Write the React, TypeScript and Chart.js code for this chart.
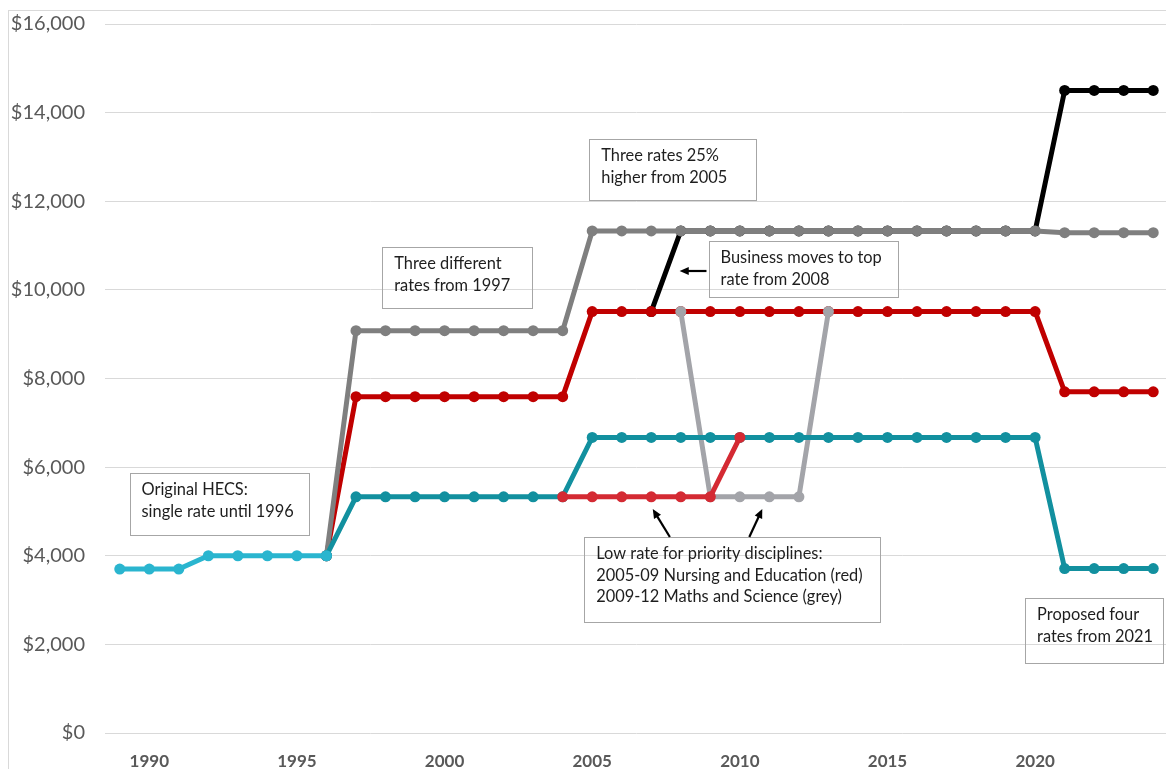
import React, { useEffect, useRef } from 'react';
import { Chart, registerables } from 'chart.js';

Chart.register(...registerables);

// Funding years shown on the category axis
const years = [
  '1989', '1990', '1991', '1992', '1993', '1994', '1995', '1996', '1997', '1998',
  '1999', '2000', '2001', '2002', '2003', '2004', '2005', '2006', '2007', '2008',
  '2009', '2010', '2011', '2012', '2013', '2014', '2015', '2016', '2017', '2018',
  '2019', '2020', '2021', '2022', '2023', '2024',
];
const yearTicks = ['1990', '1995', '2000', '2005', '2010', '2015', '2020'];
const valueTicks = [0, 2000, 4000, 6000, 8000, 10000, 12000, 14000, 16000];

// Original HECS single rate
const hecsStart = 1989;
const hecsValues = [3700, 3700, 3700, 4000, 4000, 4000, 4000, 4000];

// Top band (grey)
const topStart = 1996;
const topValues = [
  4000,
  9080, 9080, 9080, 9080, 9080, 9080, 9080, 9080,
  11330, 11330, 11330, 11330, 11330, 11330, 11330, 11330,
  11330, 11330, 11330, 11330, 11330, 11330, 11330, 11330,
  11290, 11290, 11290, 11290,
];

// Middle band (red)
const midStart = 1996;
const midValues = [
  4000,
  7590, 7590, 7590, 7590, 7590, 7590, 7590, 7590,
  9510, 9510, 9510, 9510, 9510, 9510, 9510, 9510,
  9510, 9510, 9510, 9510, 9510, 9510, 9510, 9510,
  7700, 7700, 7700, 7700,
];

// Low band (teal)
const lowStart = 1996;
const lowValues = [
  4000,
  5330, 5330, 5330, 5330, 5330, 5330, 5330, 5330,
  6670, 6670, 6670, 6670, 6670, 6670, 6670, 6670,
  6670, 6670, 6670, 6670, 6670, 6670, 6670, 6670,
  3710, 3710, 3710, 3710,
];

// Business / law (black)
const businessStart = 2007;
const businessValues = [
  9510,
  11330, 11330, 11330, 11330, 11330, 11330, 11330,
  11330, 11330, 11330, 11330, 11330, 11330,
  14500, 14500, 14500, 14500,
];

// Priority disciplines
const nursingStart = 2004;
const nursingValues = [5330, 5330, 5330, 5330, 5330, 5330, 6670];
const mathsStart = 2008;
const mathsValues = [9510, 5330, 5330, 5330, 5330, 9510];

const seriesPoints = (start: number, values: number[]) =>
  values.map((y, i) => ({ x: String(start + i), y }));

const FONT = 'Lato, "Open Sans", sans-serif';

type Note = { lines: string[]; x0: number; x1: number; y0: number; y1: number };
type Arrow = { from: [number, number]; to: [number, number] };

// Callout boxes, placed in axis units (year, dollars)
const notes: Note[] = [
  { lines: ['Original HECS:', 'single rate until 1996'], x0: 1989.33, x1: 1995.39, y0: 5867, y1: 4468 },
  { lines: ['Three different', 'rates from 1997'], x0: 1997.89, x1: 2002.98, y0: 10968, y1: 9591 },
  { lines: ['Three rates 25%', 'higher from 2005'], x0: 2004.9, x1: 2010.56, y0: 13405, y1: 12028 },
  { lines: ['Business moves to top', 'rate from 2008'], x0: 2008.94, x1: 2015.35, y0: 11103, y1: 9839 },
  {
    lines: [
      'Low rate for priority disciplines:',
      '2005-09 Nursing and Education (red)',
      '2009-12 Maths and Science (grey)',
    ],
    x0: 2004.73, x1: 2014.77, y0: 4423, y1: 2505,
  },
  { lines: ['Proposed four', 'rates from 2021'], x0: 2019.66, x1: 2024.34, y0: 3047, y1: 1580 },
];

const arrows: Arrow[] = [
  { from: [2008.87, 10426], to: [2007.96, 10426] },
  { from: [2007.63, 4423], to: [2007.05, 5055] },
  { from: [2010.32, 4423], to: [2010.76, 5055] },
];

const calloutPlugin = {
  id: 'callouts',
  afterDraw(chart: any) {
    const { ctx, scales } = chart;
    const xs = scales.x;
    const ys = scales.y;
    const px = (year: number) => xs.getPixelForValue(year - hecsStart);
    const py = (v: number) => ys.getPixelForValue(v);
    ctx.save();
    for (const n of notes) {
      const left = px(n.x0);
      const right = px(n.x1);
      const top = py(n.y0);
      const bottom = py(n.y1);
      ctx.strokeStyle = '#a6a6a6';
      ctx.lineWidth = 1;
      ctx.strokeRect(Math.round(left) + 0.5, Math.round(top) + 0.5, Math.round(right - left), Math.round(bottom - top));
      ctx.fillStyle = '#1e1e1e';
      ctx.font = `16.4px ${FONT}`;
      ctx.textBaseline = 'middle';
      ctx.textAlign = 'left';
      n.lines.forEach((line, i) => {
        ctx.fillText(line, left + 12, top + 17 + i * 21.5);
      });
    }
    for (const a of arrows) {
      const x1 = px(a.from[0]);
      const y1 = py(a.from[1]);
      const x2 = px(a.to[0]);
      const y2 = py(a.to[1]);
      const ang = Math.atan2(y2 - y1, x2 - x1);
      const head = 10;
      ctx.strokeStyle = '#000';
      ctx.fillStyle = '#000';
      ctx.lineWidth = 2.2;
      ctx.beginPath();
      ctx.moveTo(x1, y1);
      ctx.lineTo(x2 - Math.cos(ang) * head * 0.8, y2 - Math.sin(ang) * head * 0.8);
      ctx.stroke();
      ctx.beginPath();
      ctx.moveTo(x2, y2);
      ctx.lineTo(x2 - head * Math.cos(ang - 0.42), y2 - head * Math.sin(ang - 0.42));
      ctx.lineTo(x2 - head * Math.cos(ang + 0.42), y2 - head * Math.sin(ang + 0.42));
      ctx.closePath();
      ctx.fill();
    }
    ctx.restore();
  },
};

const line = (label: string, color: string, points: { x: string; y: number }[]) => ({
  label,
  data: points,
  borderColor: color,
  backgroundColor: color,
  pointBackgroundColor: color,
  pointBorderColor: color,
  borderWidth: 5,
  pointRadius: 5.5,
  pointBorderWidth: 0,
  pointHoverRadius: 5.5,
  tension: 0,
  fill: false,
});

export default function App() {
  const canvasRef = useRef<HTMLCanvasElement | null>(null);

  useEffect(() => {
    document.documentElement.style.overflow = 'hidden';
    const canvas = canvasRef.current;
    if (!canvas) return;
    const chart = new Chart(canvas, {
      type: 'line',
      data: {
        labels: years,
        // first dataset is drawn on top
        datasets: [
          line('Original HECS', '#2ab5cf', seriesPoints(hecsStart, hecsValues)),
          line('Nursing and Education', '#d42a33', seriesPoints(nursingStart, nursingValues)),
          line('Low rate', '#12909f', seriesPoints(lowStart, lowValues)),
          line('Maths and Science', '#a3a4a9', seriesPoints(mathsStart, mathsValues)),
          line('Top rate', '#7f7f7f', seriesPoints(topStart, topValues)),
          line('Middle rate', '#c00000', seriesPoints(midStart, midValues)),
          line('Business', '#000000', seriesPoints(businessStart, businessValues)),
        ] as any,
      },
      options: {
        animation: false,
        responsive: true,
        maintainAspectRatio: false,
        layout: { padding: { top: 13, right: 6, left: 0, bottom: 0 } },
        plugins: {
          legend: { display: false },
          tooltip: { enabled: false },
        },
        scales: {
          x: {
            type: 'category',
            offset: true,
            grid: { display: false, drawTicks: false },
            border: { display: false },
            ticks: {
              autoSkip: false,
              maxRotation: 0,
              padding: 18,
              color: '#595959',
              font: { family: FONT, size: 17, weight: 'bold' },
              callback: (_v: any, idx: number) => (yearTicks.includes(years[idx]) ? years[idx] : ''),
            },
            afterFit: (scale: any) => {
              scale.height = 38;
              scale.paddingLeft = 0;
              scale.paddingRight = 0;
            },
          },
          y: {
            min: 0,
            max: 16000,
            grid: { color: '#d9d9d9', lineWidth: 1, drawTicks: false },
            border: { display: false },
            ticks: {
              padding: 20,
              color: '#595959',
              font: { family: FONT, size: 20 },
              callback: (v: any) => '$' + Number(v).toLocaleString('en-US'),
            },
            afterBuildTicks: (axis: any) => {
              axis.ticks = valueTicks.map((value) => ({ value }));
            },
            afterFit: (scale: any) => {
              scale.width = 96;
              scale.paddingTop = 0;
              scale.paddingBottom = 0;
            },
          },
        },
      } as any,
      plugins: [calloutPlugin],
    });
    return () => chart.destroy();
  }, []);

  return (
    <div
      style={{
        position: 'relative',
        top: 2,
        width: 1165,
        height: 760,
        borderLeft: '1px solid #d9d9d9',
        borderTop: '1px solid #d9d9d9',
      }}
    >
      <canvas ref={canvasRef} />
    </div>
  );
}
